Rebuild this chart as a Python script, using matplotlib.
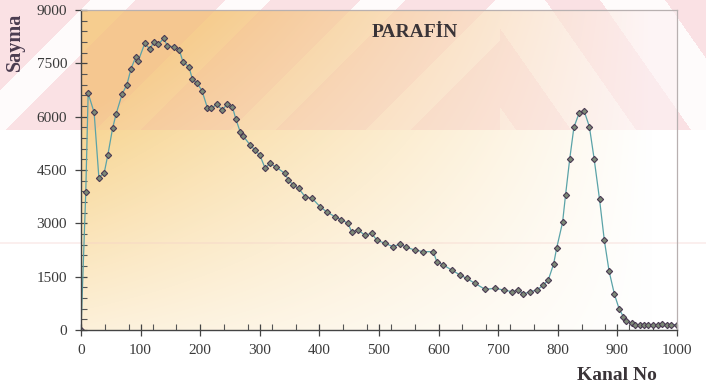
import numpy as np
import matplotlib.pyplot as plt
from matplotlib.ticker import MultipleLocator

# channel numbers and counts of the paraffin spectrum
kanal = [0, 8, 12, 22, 30, 39, 45, 53, 59, 69, 77, 84, 92, 96, 107, 116, 122,
         130, 139, 145, 156, 165, 171, 181, 187, 195, 203, 212, 218, 228, 237,
         245, 254, 260, 267, 272, 284, 292, 300, 309, 317, 328, 342, 348, 356,
         365, 376, 388, 401, 412, 426, 437, 448, 454, 465, 476, 488, 496, 510,
         524, 535, 546, 560, 574, 591, 597, 608, 622, 636, 647, 661, 678, 695,
         709, 723, 734, 742, 754, 765, 776, 784, 793, 798, 808, 813, 820, 827,
         836, 844, 853, 861, 870, 878, 886, 895, 903, 910, 915, 924, 930, 938,
         945, 952, 960, 968, 975, 983, 990, 1000]
sayma = [0, 3880, 6656, 6120, 4283, 4424, 4920, 5672, 6083, 6637, 6900, 7350,
         7687, 7565, 8062, 7893, 8108, 8043, 8203, 7987, 7967, 7874, 7545,
         7405, 7050, 6937, 6730, 6251, 6233, 6345, 6187, 6345, 6271, 5925,
         5577, 5456, 5200, 5060, 4920, 4547, 4687, 4574, 4406, 4218, 4077,
         3985, 3750, 3703, 3468, 3327, 3187, 3100, 3000, 2765, 2812, 2671,
         2718, 2531, 2437, 2343, 2418, 2325, 2250, 2203, 2203, 1922, 1828,
         1687, 1547, 1453, 1312, 1144, 1172, 1125, 1078, 1125, 1012, 1078,
         1125, 1265, 1406, 1856, 2297, 3027, 3797, 4809, 5700, 6111, 6168,
         5718, 4809, 3680, 2531, 1660, 1004, 590, 375, 253, 188, 150, 140,
         130, 150, 130, 140, 160, 130, 140, 150]

x_ticks = [0, 100, 200, 300, 400, 500, 600, 700, 800, 900, 1000]
y_ticks = [0, 1500, 3000, 4500, 6000, 7500, 9000]

W, H = 706, 391
L, R, T, B = 81, 677, 10, 330   # plot area in pixels

# ---- background: warm gradient in the plot area with a faint pink band on top
yy, xx = np.mgrid[0:H, 0:W].astype(float)
img = np.ones((H, W, 3))

inside = (xx >= L) & (xx <= R) & (yy >= T) & (yy <= B)
xn = (xx - L) / (R - L)
yn = (B - yy) / (B - T)
w = np.clip((1.1 - 1.15 * xn) * (0.3 + 0.9 * yn), 0, 1) * inside
warm = np.array([0.97, 0.83, 0.56])
img = img * (1 - w[..., None]) + warm * w[..., None]

band = yy < 130
left_side = xx < 500
s_left = np.mod(xx + yy - 90, 135) < 45
s_right = np.mod(xx - 0.7 * yy - 545, 120) < 55
pale = np.where(left_side, s_left, ~s_right)
a_on = np.where(inside, 0.17, 0.26)
a_off = np.where(inside, 0.09, 0.03)
alpha = np.where(band, np.where(pale, a_off, a_on), 0.0)
pink = np.array([0.93, 0.55, 0.60])
img = img * (1 - alpha[..., None]) + pink * alpha[..., None]
img[242:244, :] = img[242:244, :] * 0.7 + np.array([0.95, 0.80, 0.78]) * 0.3

fig = plt.figure(figsize=(W / 100, H / 100), dpi=100)
bg = fig.add_axes([0, 0, 1, 1], zorder=-1)
bg.imshow(img, aspect='auto', interpolation='bilinear')
bg.axis('off')

ax = fig.add_axes([L / W, (H - B) / H, (R - L) / W, (B - T) / H])
ax.set_facecolor('none')

ax.plot(kanal, sayma, color='#5aa3a8', lw=0.9, marker='D', markersize=3.2,
        markerfacecolor='#7d8a78', markeredgecolor='#4a3a52', markeredgewidth=0.8)

ax.set_xlim(0, 1000)
ax.set_ylim(0, 9000)
ax.set_xticks(x_ticks)
ax.set_yticks(y_ticks)
ax.xaxis.set_minor_locator(MultipleLocator(40))
ax.yaxis.set_minor_locator(MultipleLocator(300))

serif = 'Liberation Serif'
ax.tick_params(which='major', direction='inout', length=8, width=0.9,
               color='#444444', labelsize=11, labelcolor='#3a3a3a')
ax.tick_params(which='minor', direction='in', length=4, width=0.8, color='#555555')
ax.tick_params(axis='x', which='major', pad=6)
ax.tick_params(axis='y', which='major', pad=6)
for lab in ax.get_xticklabels() + ax.get_yticklabels():
    lab.set_family(serif)

for side in ['left', 'bottom']:
    ax.spines[side].set_color('#444444')
    ax.spines[side].set_linewidth(1.0)
for side in ['top', 'right']:
    ax.spines[side].set_color('#b8b0b0')
    ax.spines[side].set_linewidth(0.9)

ax.text(0.56, 0.93, 'PARAFİN', transform=ax.transAxes, ha='center', va='center',
        family=serif, fontsize=14, fontweight='bold', color='#3a3438')
fig.text(15 / W, 1 - 42 / H, 'Sayma', rotation=90, ha='center', va='center',
         family=serif, fontsize=14.5, fontweight='bold', color='#4a3c50')
fig.text(617 / W, 1 - 375 / H, 'Kanal No', ha='center', va='center',
         family=serif, fontsize=14, fontweight='bold', color='#3a3438')

fig.savefig('out.png', dpi=100)
